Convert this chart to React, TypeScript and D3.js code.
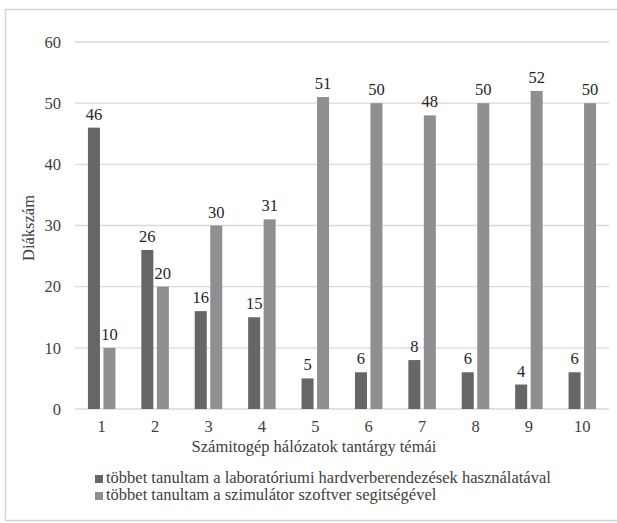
import React from "react";
import * as d3 from "d3";

const categories = ["1", "2", "3", "4", "5", "6", "7", "8", "9", "10"];
const labSeries = [46, 26, 16, 15, 5, 6, 8, 6, 4, 6];
const simSeries = [10, 20, 30, 31, 51, 50, 48, 50, 52, 50];
const yTicks = [0, 10, 20, 30, 40, 50, 60];
const seriesNames = [
  "többet tanultam a laboratóriumi hardverberendezések használatával",
  "többet tanultam a szimulátor szoftver segitségével",
];
const colors = ["#666666", "#8f8f91"];

const W = 617;
const H = 523;
const font = "'Liberation Serif', 'Times New Roman', serif";

export default function App() {
  const x = d3.scaleBand<string>().domain(categories).range([75, 609]).padding(0);
  const y = d3.scaleLinear().domain([0, 60]).range([409, 42]);
  const barW = 12;
  const gap = 3.5;
  const series = [labSeries, simSeries];
  const ts = { fontFamily: font };

  return (
    <svg width={W} height={H} style={{ position: "absolute", left: 0, top: 0, background: "#fff" }}>
      <rect x={5.5} y={9.5} width={640} height={511} fill="#fff" stroke="#d4d4d4" strokeWidth={1.5} />
      {yTicks.map((t) => (
        <g key={t}>
          <line x1={75} x2={609} y1={y(t)} y2={y(t)} stroke="#d9d9d9" strokeWidth={1.3} />
          <text x={61} y={y(t)} dy="0.35em" textAnchor="end" fontSize={16.5} style={ts} fill="#404040">
            {t}
          </text>
        </g>
      ))}
      {categories.map((c, i) => {
        const cx = (x(c) as number) + x.bandwidth() / 2;
        return (
          <g key={c}>
            {series.map((s, k) => {
              const bx = k === 0 ? cx - gap / 2 - barW : cx + gap / 2;
              return (
                <g key={k}>
                  <rect x={bx} y={y(s[i])} width={barW} height={y(0) - y(s[i])} fill={colors[k]} />
                  <text
                    x={bx + barW / 2}
                    y={y(s[i]) - 8}
                    textAnchor="middle"
                    fontSize={16.5}
                    style={ts}
                    fill="#262626"
                  >
                    {s[i]}
                  </text>
                </g>
              );
            })}
            <text x={cx} y={432} textAnchor="middle" fontSize={16.5} style={ts} fill="#404040">
              {c}
            </text>
          </g>
        );
      })}
      <text x={314} y={452} textAnchor="middle" fontSize={16.5} style={ts} fill="#404040">
        Számitogép hálózatok tantárgy témái
      </text>
      <text
        transform={`translate(34, 228) rotate(-90)`}
        textAnchor="middle"
        fontSize={16.5}
        style={ts}
        fill="#404040"
      >
        Diákszám
      </text>
      {seriesNames.map((n, k) => (
        <g key={k}>
          <rect x={95} y={475 + k * 17} width={8} height={8} fill={colors[k]} />
          <text x={106} y={483 + k * 17} fontSize={16.5} style={ts} fill="#404040">
            {n}
          </text>
        </g>
      ))}
    </svg>
  );
}
